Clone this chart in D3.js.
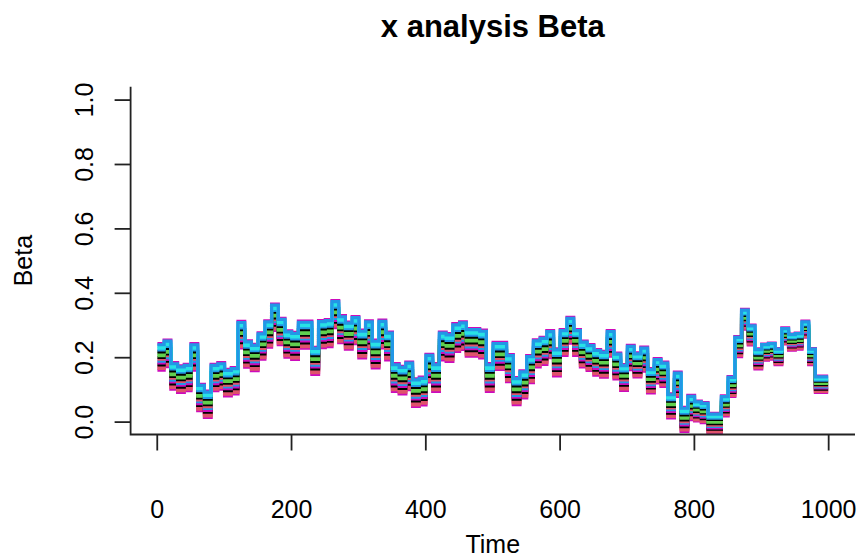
<!DOCTYPE html>
<html>
<head>
<meta charset="utf-8">
<script src="https://cdn.jsdelivr.net/npm/d3@7"></script>
<style>
  html, body { margin: 0; padding: 0; background: #fff; }
  svg { display: block; }
  text { font-family: "Liberation Sans", Arial, Helvetica, sans-serif; fill: #000; }
</style>
</head>
<body>
<svg id="chart" width="857" height="557"></svg>
<script>
// Centre of the Beta band, one value per 10-step block of Time (1..1000)
const betaCenter = [
  0.201, 0.212, 0.142, 0.132, 0.137, 0.201, 0.075, 0.054, 0.137, 0.142,
  0.121, 0.127, 0.270, 0.210, 0.199, 0.235, 0.272, 0.324, 0.280, 0.241,
  0.235, 0.270, 0.270, 0.189, 0.272, 0.275, 0.334, 0.287, 0.267, 0.284,
  0.241, 0.270, 0.210, 0.272, 0.235, 0.137, 0.129, 0.142, 0.090, 0.095,
  0.166, 0.137, 0.235, 0.230, 0.261, 0.267, 0.246, 0.246, 0.241, 0.137,
  0.204, 0.204, 0.166, 0.095, 0.116, 0.163, 0.212, 0.220, 0.241, 0.184,
  0.246, 0.284, 0.246, 0.210, 0.199, 0.184, 0.178, 0.243, 0.173, 0.137,
  0.199, 0.176, 0.194, 0.127, 0.158, 0.147, 0.049, 0.116, 0.007, 0.044,
  0.033, 0.028, -0.005, -0.005, 0.049, 0.109, 0.233, 0.318, 0.269, 0.195,
  0.216, 0.219, 0.202, 0.266, 0.247, 0.250, 0.287, 0.202, 0.116, 0.116
];
// Width of the band of trajectories in each 100-step stretch of Time
const bandSpread = [0.082, 0.082, 0.084, 0.086, 0.086, 0.084, 0.080, 0.075, 0.062, 0.050];
// Relative position of each trajectory inside the band, in drawing order
const lineFrac = [-0.50, 0.50, -0.44, -0.37, -0.30, -0.23, -0.16, -0.09, -0.02, 0.05, 0.12, 0.19, 0.26, 0.33, 0.40, 0.46];
const lineCol  = ["#CD0BBC", "#CD0BBC", "#DF536B", "#DF536B", "#000000", "#CD0BBC", "#2297E6", "#DF536B",
                  "#000000", "#61D04F", "#61D04F", "#000000", "#2297E6", "#28E2E5", "#28E2E5", "#2297E6"];
const xTicks = [0, 200, 400, 600, 800, 1000];
const yTicks = [0, 0.2, 0.4, 0.6, 0.8, 1.0];
const timeStart = 1, timeEnd = 1000, blockLen = 10;

const svg = d3.select("#chart");
const plot = { left: 130.6, right: 855, top: 86.7, bottom: 434.5 };

// R-style 4% padding on both axes
const xPad = 0.04 * (timeEnd - timeStart);
const x = d3.scaleLinear().domain([timeStart - xPad, timeEnd + xPad]).range([plot.left, plot.right]);
const y = d3.scaleLinear().domain([-0.04, 1.04]).range([plot.bottom, plot.top]);

svg.append("defs").append("clipPath").attr("id", "plotClip")
  .append("rect")
  .attr("x", plot.left).attr("y", plot.top)
  .attr("width", plot.right - plot.left).attr("height", plot.bottom - plot.top);

// Build each trajectory as a step series
const series = lineFrac.map((f, k) => {
  const pts = betaCenter.map((c, i) => ({
    t: timeStart + i * blockLen,
    v: c + f * bandSpread[Math.floor(i / 10)]
  }));
  pts.push({ t: timeEnd, v: pts[pts.length - 1].v });
  return { color: lineCol[k], pts };
});

const line = d3.line().curve(d3.curveStepAfter).x(d => x(d.t)).y(d => y(d.v));

svg.append("g").attr("clip-path", "url(#plotClip)")
  .selectAll("path").data(series).join("path")
  .attr("d", d => line(d.pts))
  .attr("fill", "none")
  .attr("stroke", d => d.color)
  .attr("stroke-width", 3.2)
  .attr("stroke-linejoin", "miter");

// L-shaped frame
svg.append("path")
  .attr("d", `M${plot.left},${plot.top} V${plot.bottom} H${plot.right}`)
  .attr("fill", "none").attr("stroke", "#222").attr("stroke-width", 1.8);

const fs = 25;

// x axis
const gx = svg.append("g").attr("transform", `translate(0,${plot.bottom})`)
  .call(d3.axisBottom(x).tickValues(xTicks).tickSize(16).tickFormat(d3.format("d")));
gx.select(".domain").remove();
gx.selectAll(".tick line").attr("stroke", "#222").attr("stroke-width", 1.8);
gx.selectAll(".tick text")
  .attr("y", 66).attr("dy", "0.716em")
  .style("font-size", fs + "px")
  .style("font-family", '"Liberation Sans", Arial, sans-serif')
  .attr("fill", "#000");

// y axis
const gy = svg.append("g").attr("transform", `translate(${plot.left},0)`)
  .call(d3.axisLeft(y).tickValues(yTicks).tickSize(16).tickFormat(d3.format(".1f")));
gy.select(".domain").remove();
gy.selectAll(".tick line").attr("stroke", "#222").attr("stroke-width", 1.8);
gy.selectAll(".tick text")
  .attr("x", 0).attr("dy", 0)
  .attr("transform", "translate(-37.6,0) rotate(-90)")
  .attr("text-anchor", "middle")
  .style("font-size", fs + "px")
  .style("font-family", '"Liberation Sans", Arial, sans-serif')
  .attr("fill", "#000");

// Titles
const cx = (plot.left + plot.right) / 2;
svg.append("text").attr("x", cx).attr("y", 36.7)
  .attr("text-anchor", "middle")
  .style("font-size", "31px").style("font-weight", "bold")
  .text("x analysis Beta");

svg.append("text").attr("x", cx).attr("y", 553)
  .attr("text-anchor", "middle")
  .style("font-size", fs + "px")
  .text("Time");

svg.append("text")
  .attr("transform", `translate(32,${(plot.top + plot.bottom) / 2}) rotate(-90)`)
  .attr("text-anchor", "middle")
  .style("font-size", fs + "px")
  .text("Beta");
</script>
</body>
</html>
